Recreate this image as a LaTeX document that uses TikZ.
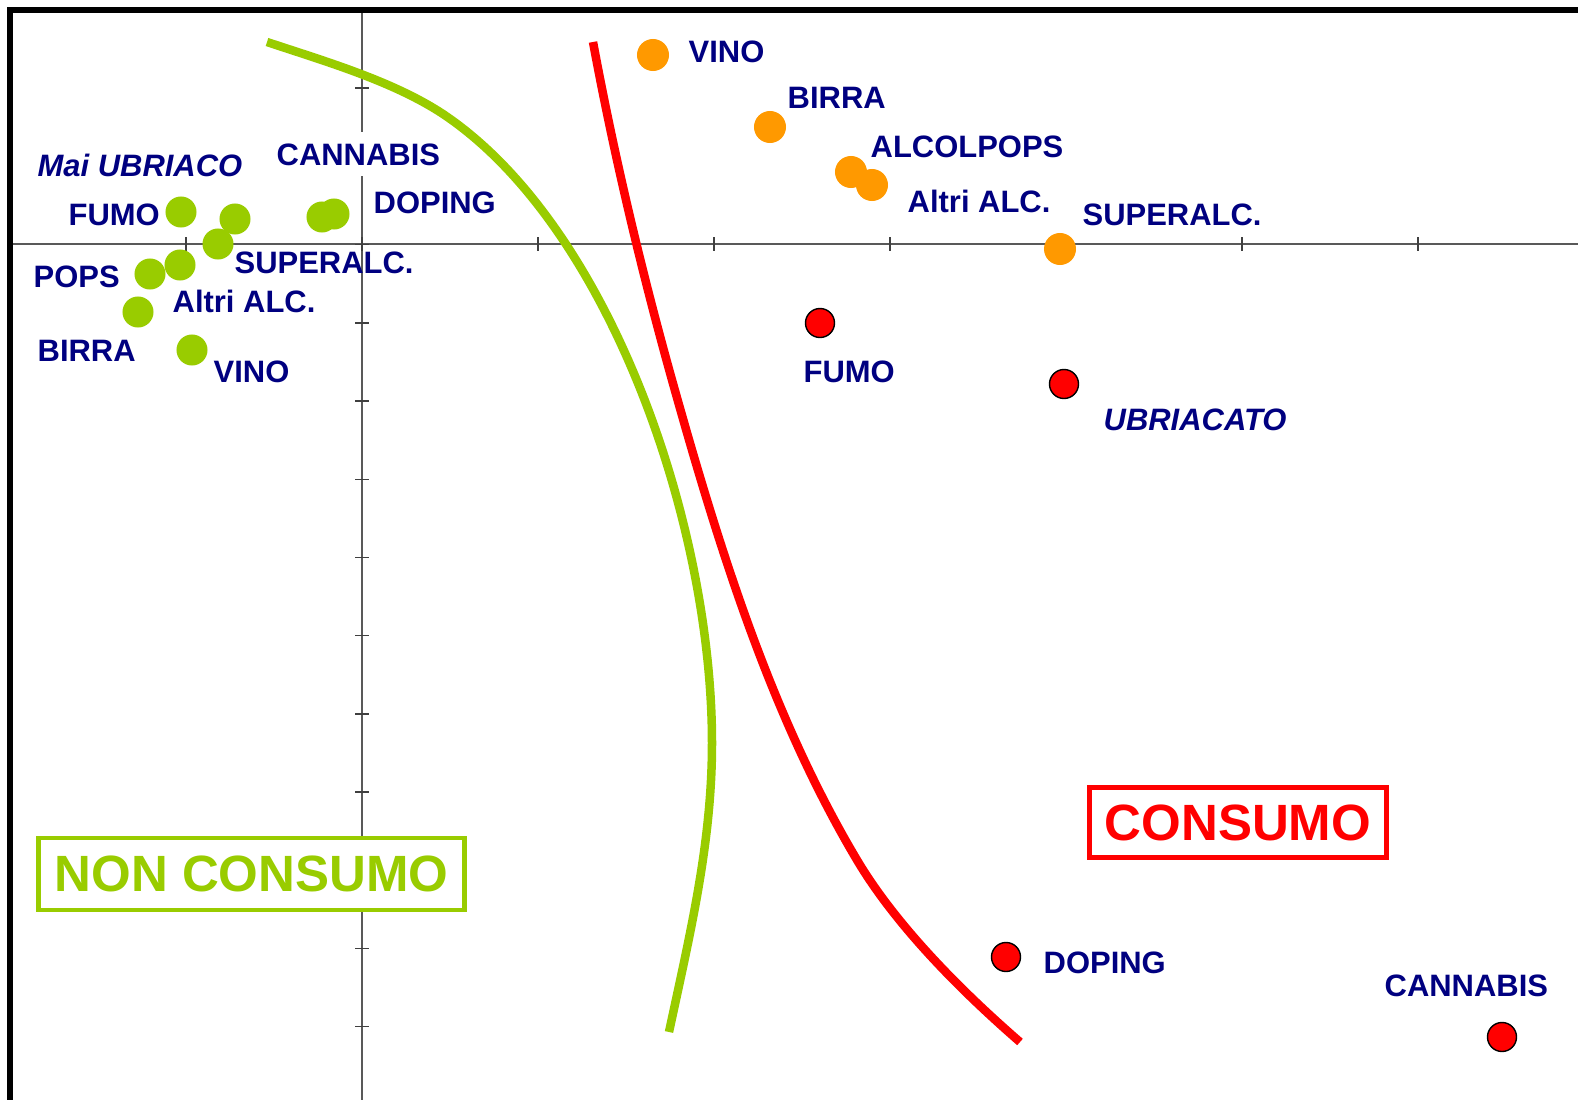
\documentclass[tikz,border=0pt]{standalone}
\usepackage{fontspec}
\setmainfont{Liberation Sans}

\definecolor{navy}{RGB}{0,0,128}
\definecolor{leaf}{RGB}{153,204,0}
\definecolor{amber}{RGB}{255,153,0}
\definecolor{rosso}{RGB}{255,0,0}

\tikzset{
  lbl/.style={text=navy, font=\bfseries\fontsize{8.8}{10}\selectfont, anchor=base west, inner sep=0pt},
  ilbl/.style={lbl, font=\bfseries\itshape\fontsize{8.8}{10}\selectfont},
  gdot/.style={circle, fill=leaf, minimum size=0.31cm, inner sep=0pt},
  odot/.style={circle, fill=amber, minimum size=0.32cm, inner sep=0pt},
  rdot/.style={circle, fill=rosso, draw=black, line width=0.4pt, minimum size=0.29cm, inner sep=0pt},
  bigbox/.style={font=\bfseries\fontsize{14.5}{16}\selectfont, line width=0.045cm, fill=white, inner sep=0pt},
  curve/.style={line width=0.085cm},
}

\begin{document}
\begin{tikzpicture}[x=0.01cm, y=-0.01cm]

    \useasboundingbox (0,0) rectangle (1578,1100);

    % axes
    \draw[black!65, line width=0.4pt] (10,244) -- (1578,244);
    \draw[black!65, line width=0.4pt] (362,10) -- (362,1100);
    \foreach \k in {1,...,8}
        \draw[black!75, line width=0.4pt] (10+176*\k,237) -- (10+176*\k,251);
    \foreach \k in {1,...,13}
        \draw[black!75, line width=0.4pt] (355,10+78.2*\k) -- (369,10+78.2*\k);

    % frame
    \draw[line width=0.05cm] (10,1100) -- (10,10) -- (1578,10);

    % boxes
    \node[bigbox, draw=leaf, text=leaf, minimum width=4.26cm, minimum height=0.72cm] (noncons) at (251.5,874) {NON CONSUMO};
    \node[bigbox, draw=rosso, text=rosso, minimum width=2.97cm, minimum height=0.70cm] (cons) at (1238,822.5) {CONSUMO};

    % frontiers
    \draw[curve, leaf] (267,42) .. controls (324,61) and (393,81) .. (443,114)
        .. controls (609,225) and (712,523) .. (712,743)
        .. controls (712,843) and (690,934) .. (669,1032);
    \draw[curve, rosso] (593,42) .. controls (614,155) and (641,269) .. (672,380)
        .. controls (718,544) and (770,714) .. (857,860)
        .. controls (898,929) and (967,996) .. (1020,1042);

    % non consumo
    \node[ilbl] (gMai) at (37,176) {Mai UBRIACO};
    \node[lbl, fill=white, inner ysep=0.11cm] (gCann) at (276,165) {CANNABIS};
    \node[lbl] (gDop) at (373,213) {DOPING};
    \node[lbl] (gFumo) at (68,225) {FUMO};
    \node[lbl] (gSup) at (234,273) {SUPERALC.};
    \node[lbl] (gPops) at (33,287) {POPS};
    \node[lbl] (gAltri) at (172,312) {Altri ALC.};
    \node[lbl] (gBirra) at (37,361) {BIRRA};
    \node[lbl] (gVino) at (213,382) {VINO};

    \node[gdot] (gd1) at (181,212) {};
    \node[gdot] (gd2) at (235,219) {};
    \node[gdot] (gd3) at (218,244) {};
    \node[gdot] (gd4) at (180,265) {};
    \node[gdot] (gd5) at (150,274) {};
    \node[gdot] (gd6) at (138,312) {};
    \node[gdot] (gd7) at (192,350) {};
    \node[gdot] (gd8) at (322,217) {};
    \node[gdot] (gd9) at (334,214) {};

    % alcol
    \node[odot] (oVinoD) at (653,55) {};
    \node[odot] (oBirraD) at (770,127) {};
    \node[odot] (oPopsD) at (851,172) {};
    \node[odot] (oAltriD) at (872,185) {};
    \node[odot] (oSupD) at (1060,249) {};

    \node[lbl] (oVino) at (688,62) {VINO};
    \node[lbl] (oBirra) at (787,108) {BIRRA};
    \node[lbl] (oPops) at (870,157) {ALCOLPOPS};
    \node[lbl] (oAltri) at (907,212) {Altri ALC.};
    \node[lbl] (oSup) at (1082,225) {SUPERALC.};

    % consumo
    \node[rdot] (rFumoD) at (820,323) {};
    \node[rdot] (rUbrD) at (1064,384) {};
    \node[rdot] (rDopD) at (1006,957) {};
    \node[rdot] (rCannD) at (1502,1037) {};

    \node[lbl] (rFumo) at (803,382) {FUMO};
    \node[ilbl] (rUbr) at (1103,430) {UBRIACATO};
    \node[lbl] (rDop) at (1043,973) {DOPING};
    \node[lbl] (rCann) at (1384,996) {CANNABIS};

\end{tikzpicture}
\end{document}
